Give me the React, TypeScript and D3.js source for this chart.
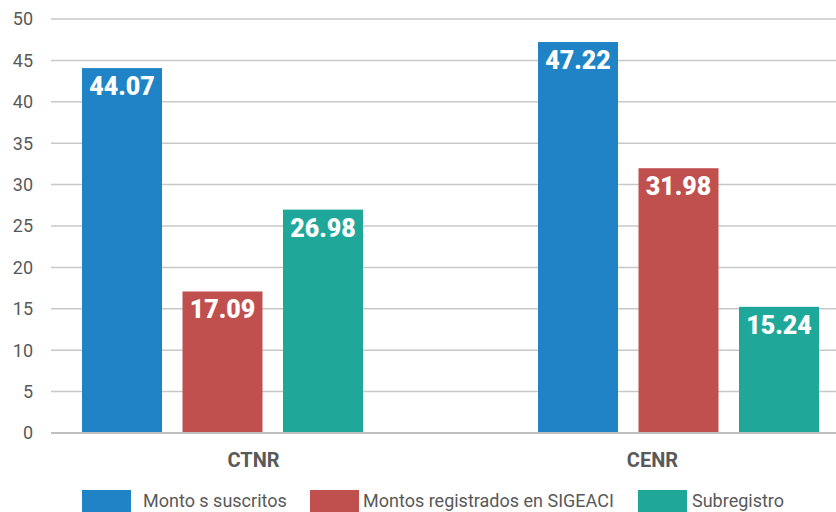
import React from 'react';
import * as d3 from 'd3';

const categories = ['CTNR', 'CENR'];
const series = ['Monto s suscritos', 'Montos registrados en SIGEACI', 'Subregistro'];
const colors = ['#1f83c6', '#c0504d', '#1fa89a'];
const suscritos = [44.07, 47.22];
const registrados = [17.09, 31.98];
const subregistro = [26.98, 15.24];
const yTicks = [0, 5, 10, 15, 20, 25, 30, 35, 40, 45, 50];

const W = 836;
const H = 512;

const App = () => {
  const values = [suscritos, registrados, subregistro];

  const y = d3.scaleLinear().domain([0, 50]).range([433, 19]);
  // category axis labels (Excel places them on its own band)
  const xAxis = d3.scaleBand().domain(categories).range([54, 852]);
  // bar groups
  const xg = d3.scaleBand().domain(categories).range([82, 819]).paddingInner(175 / 456);
  const x1 = d3.scaleBand().domain(series).range([0, xg.bandwidth()]).paddingInner(0.204);

  const legendX = [82, 310, 638];
  const legendText = [143, 363, 692];
  const font = 'Roboto, "DejaVu Sans", sans-serif';

  return (
    <svg width={W} height={H} style={{position: 'absolute', left: 0, top: 0, background: '#fff'}}>
      {yTicks.map(t => (
        <g key={t}>
          {t > 0 && <line x1={51} x2={836} y1={y(t)} y2={y(t)} stroke="#c8c8c8" strokeWidth={1.5} />}
          <text x={33} y={y(t)} dy="0.36em" textAnchor="end" fontSize={18} fill="#595959" fontFamily={font}>{t}</text>
        </g>
      ))}

      {categories.map((c, ci) => (
        <g key={c} transform={`translate(${xg(c)},0)`}>
          {series.map((s, si) => {
            const v = values[si][ci];
            const bx = x1(s) as number;
            return (
              <g key={s}>
                <rect x={bx} y={y(v)} width={x1.bandwidth()} height={y(0) - y(v)} fill={colors[si]} />
                <text x={bx + x1.bandwidth() / 2} y={y(v) + 27} textAnchor="middle" fontSize={25} fontWeight={900} fill="#fff" fontFamily={font}>
                  {v.toFixed(2)}
                </text>
              </g>
            );
          })}
        </g>
      ))}

      <line x1={51} x2={836} y1={y(0)} y2={y(0)} stroke="#bfbfbf" strokeWidth={2} />

      {categories.map(c => (
        <text key={c} x={(xAxis(c) as number) + xAxis.bandwidth() / 2} y={467} textAnchor="middle" fontSize={20} fontWeight={700} fill="#595959" fontFamily={font}>
          {c}
        </text>
      ))}

      {series.map((s, i) => (
        <g key={s}>
          <rect x={legendX[i]} y={490} width={49} height={24} fill={colors[i]} />
          <text x={legendText[i]} y={507} fontSize={18} fill="#595959" fontFamily={font}>{s}</text>
        </g>
      ))}
    </svg>
  );
};

export default App;
